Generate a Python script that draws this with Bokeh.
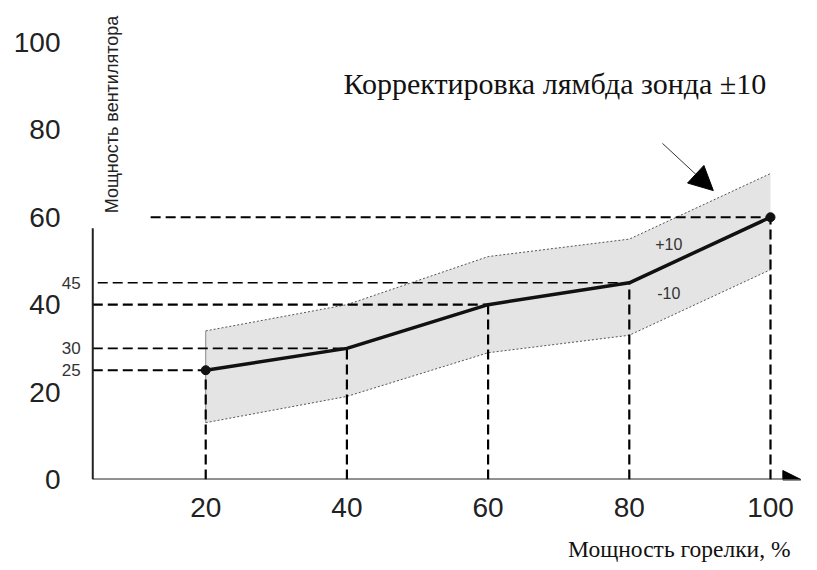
import numpy as np
from bokeh.plotting import figure
from bokeh.models import Range1d, FixedTicker, Label, Arrow, NormalHead, Title
from bokeh.core.properties import value
from bokeh.embed import file_html
from bokeh.resources import INLINE

# ---- data ----
burner = [20, 40, 60, 80, 100]          # Мощность горелки, %
fan = [25, 30, 40, 45, 60]              # Мощность вентилятора
band_upper = [34, 40, 51, 55, 70]       # +10 correction
band_lower = [13, 19, 29, 33, 48]       # -10 correction
x_ticks = [20, 40, 60, 80, 100]
y_ticks = [0, 20, 40, 60, 80, 100]
guide_values = [25, 30, 45]
guide_texts = ["25", "30", "45"]
guide_start = [4, 4, 4, 4.7, 12.2]      # where the horizontal guide lines begin

SANS = "Liberation Sans"
SERIF = "Liberation Serif"

p = figure(width=817, height=578, output_backend="svg", toolbar_location=None,
           x_range=Range1d(-0.57, 105.95), y_range=Range1d(0, 107.3),
           min_border_left=60, min_border_right=5, min_border_top=10, min_border_bottom=99)
p.outline_line_color = None
p.grid.visible = False
p.background_fill_color = "white"

for ax, ticks in ((p.xaxis[0], x_ticks), (p.yaxis[0], y_ticks)):
    ax.ticker = FixedTicker(ticks=ticks)
    ax.axis_line_color = None
    ax.major_tick_line_color = None
    ax.minor_tick_line_color = None
    ax.major_label_text_font = SANS
    ax.major_label_text_font_size = "28px"
    ax.major_label_text_color = "#222222"
p.xaxis.major_label_standoff = 12
p.yaxis.major_label_standoff = -6

# band
bx = burner + burner[::-1]
by = band_upper + band_lower[::-1]
p.patch(bx, by, fill_color="#e4e4e4", line_color=None)
p.line(burner, band_upper, line_color="#555555", line_width=1, line_dash="2 2")
p.line(burner, band_lower, line_color="#555555", line_width=1, line_dash="2 2")
p.line([burner[0], burner[0]], [band_lower[0], band_upper[0]], line_color="#888888", line_width=1)

# guide lines
for i, (xv, yv) in enumerate(zip(burner, fan)):
    w = 1.6 if yv in (30, 45) else 2.2
    p.line([guide_start[i], xv], [yv, yv], line_color="black", line_width=w, line_dash="10 5")
    p.line([xv, xv], [0, yv], line_color="black", line_width=2.2, line_dash="10 5")

# axes lines
p.line([4, 4], [0, 57.5], line_color="#222222", line_width=2)
p.add_layout(Arrow(end=NormalHead(size=18, fill_color="black", line_color="black"),
                   x_start=4, y_start=0, x_end=104.3, y_end=0,
                   line_color="#222222", line_width=2))

# main curve
p.line(burner, fan, line_color="#111111", line_width=3.5)
p.scatter([burner[0], burner[-1]], [fan[0], fan[-1]], size=9, color="#111111")

# guide value labels
p.text([2.3] * len(guide_values), guide_values, text=guide_texts,
       text_font=value(SANS), text_font_size="17px", text_color="#333333",
       text_align="right", text_baseline="middle")

# +10 / -10
p.text([85.6, 85.6], [53.8, 42.6], text=["+10", "-10"], text_font=value(SANS),
       text_font_size="16px", text_color="#333333", text_align="center",
       text_baseline="middle")

# pointer arrow
p.add_layout(Arrow(end=NormalHead(size=24, fill_color="black", line_color="black"),
                   x_start=84.7, y_start=76.9, x_end=91.9, y_end=66.1,
                   line_color="#333333", line_width=1))

# titles
p.add_layout(Label(x=39.5, y=90.6, text="Корректировка лямбда зонда ±10",
                   text_font=SERIF, text_font_size="30px", text_color="#111111",
                   text_baseline="middle"))
p.add_layout(Label(x=6.66, y=60.9, text="Мощность вентилятора", angle=np.pi / 2,
                   text_font=SANS, text_font_size="18px", text_color="#222222",
                   text_baseline="middle"))
p.add_layout(Title(text="Мощность горелки, %", align="right", offset=22,
                   text_font=SERIF, text_font_size="23.5px", text_color="#111111",
                   text_font_style="normal", standoff=28), "below")

open("out.html", "w").write(file_html(p, INLINE))
